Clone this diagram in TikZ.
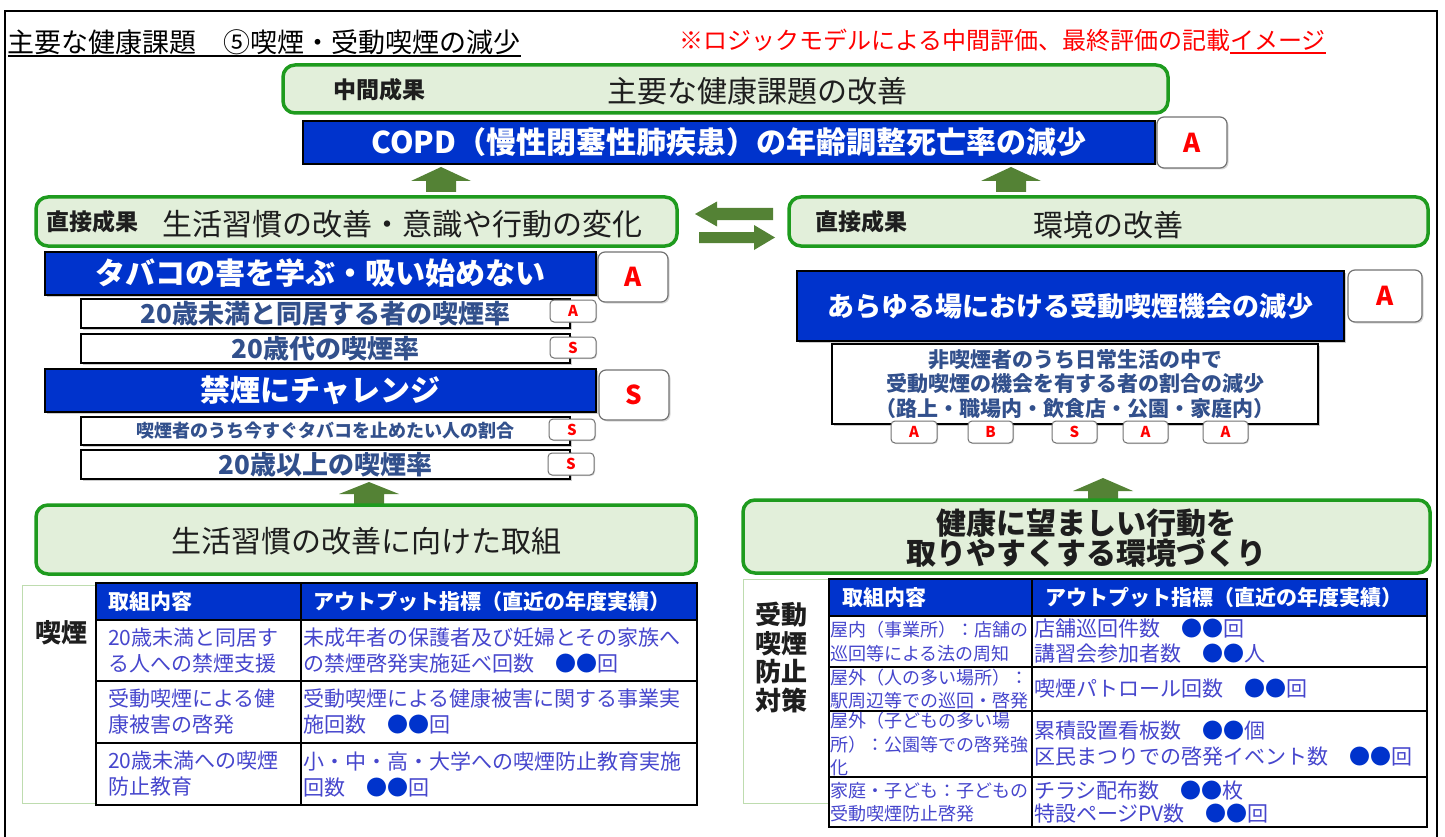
\documentclass[tikz,border=0pt]{standalone}
\usepackage{fontspec}
\setmainfont{Noto Sans CJK JP}
\usetikzlibrary{shadows}
\definecolor{bluef}{RGB}{0,51,204}
\definecolor{greenf}{RGB}{226,239,218}
\definecolor{greenb}{RGB}{30,155,30}
\definecolor{arrowg}{RGB}{84,130,53}
\definecolor{tabtxt}{RGB}{70,70,205}
\definecolor{indtxt}{RGB}{50,80,140}
\definecolor{redt}{RGB}{255,0,0}
\definecolor{frameg}{RGB}{190,220,175}
\definecolor{darktxt}{RGB}{30,30,30}
\newcommand\fsz[2]{\fontsize{#1pt}{#2pt}\selectfont}
\newcommand\bul{{\color{bluef}●●}}
\newcommand\uparr[4]{\fill[arrowg] (#1,#2) -- (#1+30,#3) -- (#1+15,#3) -- (#1+15,#4) -- (#1-15,#4) -- (#1-15,#3) -- (#1-30,#3) -- cycle;}
\begin{document}
\begin{tikzpicture}[x=1pt,y=-1pt,
 every node/.style={inner sep=0pt,outer sep=0pt},
 bb/.style n args={4}{anchor=north west,at={(#1,#2)},minimum width={(#3-#1)*1pt},minimum height={(#4-#2)*1pt}},
 greenbox/.style={draw=greenb,fill=greenf,line width=3.5pt,rounded corners=12pt},
 bluebox/.style={draw=black,fill=bluef,line width=1.5pt,text=white,font={\fsz{30}{30}\bfseries},drop shadow={shadow xshift=1.5pt,shadow yshift=-1.5pt,opacity=0.4}},
 indbox/.style={draw=black,fill=white,line width=1.3pt,text=indtxt,font={\fsz{26}{26}\bfseries},drop shadow={shadow xshift=1.5pt,shadow yshift=-1.5pt,opacity=0.4}},
 bigbadge/.style={draw=black!55,fill=white,line width=1.2pt,rounded corners=7pt,text=redt,font={\fsz{26}{26}\bfseries},drop shadow={shadow xshift=1.5pt,shadow yshift=-1.5pt,opacity=0.3}},
 badge/.style={draw=black!55,fill=white,line width=1pt,rounded corners=4pt,text=redt,font={\fsz{15}{15}\bfseries},drop shadow={shadow xshift=1pt,shadow yshift=-1pt,opacity=0.3}},
 boxlabel/.style={anchor=west,text=darktxt,font={\fsz{23}{23}\bfseries}},
 boxtext/.style={text=darktxt,font={\fsz{30}{30}}},
 hcell/.style={draw=black,line width=1.5pt,fill=bluef,text=white,font={\fsz{21}{21}\bfseries},align=left},
 cell/.style={draw=black,line width=1.5pt,fill=white,text=tabtxt,align=left},
 sidelabel/.style={text=darktxt,font={\fsz{26}{28.5}\bfseries},align=center}
]
\useasboundingbox (0,0) rectangle (1445,837);
\fill[white] (0,0) rectangle (1445,837);
% outer frame
\draw[line width=1.8pt] (5,837) -- (5,11) -- (1437,11) -- (1437,837);

% title and note
\node[anchor=west,text=black,font={\fsz{27}{27}}] (title) at (8,42) {主要な健康課題　⑤喫煙・受動喫煙の減少};
\coordinate (ul1) at (0,56);
\draw[line width=1.6pt] (title.west |- ul1) -- (title.east |- ul1);
\node[anchor=west,text=redt,font={\fsz{24}{24}}] (note) at (679,40) {※ロジックモデルによる中間評価、最終評価の記載イメージ};
\coordinate (ul2) at (0,53);
\coordinate (ie) at ([xshift=-96pt]note.east);
\draw[redt,line width=1.2pt] (ie |- ul2) -- (note.east |- ul2);

% intermediate outcome
\node[greenbox,bb={283}{65}{1168}{113}] (mid) {};
\node[boxlabel] (midl) at (333,90) {中間成果};
\node[boxtext] (midt) at (757,91) {主要な健康課題の改善};
\node[bluebox,bb={303}{121}{1155}{164}] (copd) {COPD（慢性閉塞性肺疾患）の年齢調整死亡率の減少};
\node[bigbadge,bb={1157}{117}{1227}{168}] (copdA) {A};

\uparr{441}{167}{181}{192}
\uparr{1011}{167}{181}{192}

% direct outcomes
\node[greenbox,bb={36}{197}{677}{246}] (dl) {};
\node[boxlabel] (dll) at (46,222) {直接成果};
\node[boxtext] (dlt) at (402,224) {生活習慣の改善・意識や行動の変化};
\node[greenbox,bb={789}{197}{1428}{246}] (dr) {};
\node[boxlabel] (drl) at (815,222) {直接成果};
\node[boxtext] (drt) at (1108,225) {環境の改善};

\fill[arrowg] (695,214) -- (717,201.5) -- (717,208) -- (773,208) -- (773,220) -- (717,220) -- (717,226.5) -- cycle;
\fill[arrowg] (775,237.5) -- (754,225) -- (754,232) -- (699,232) -- (699,243) -- (754,243) -- (754,250) -- cycle;

% left column
\node[bluebox,bb={45}{252}{596}{295}] (b1) {タバコの害を学ぶ・吸い始めない};
\node[bigbadge,bb={598}{252}{668}{302}] (b1A) {A};
\node[indbox,bb={81}{299}{570}{328}] (i1) {20歳未満と同居する者の喫煙率};
\node[badge,bb={550}{300}{596}{322}] (i1A) {A};
\node[indbox,bb={81}{334}{570}{363}] (i2) {20歳代の喫煙率};
\node[badge,bb={550}{337}{596}{358}] (i2S) {S};
\node[bluebox,bb={45}{369}{596}{412}] (b2) {禁煙にチャレンジ};
\node[bigbadge,bb={599}{370}{669}{420}] (b2S) {S};
\node[indbox,bb={81}{417}{570}{445},font={\fsz{18}{18}\bfseries}] (i3) {喫煙者のうち今すぐタバコを止めたい人の割合};
\node[badge,bb={549}{419}{595}{440}] (i3S) {S};
\node[indbox,bb={81}{450}{570}{479}] (i4) {20歳以上の喫煙率};
\node[badge,bb={548}{453}{594}{475}] (i4S) {S};

\uparr{369}{482}{494}{505}

% right column
\node[bluebox,bb={797}{271}{1344}{341},font={\fsz{27}{27}\bfseries}] (b3) {あらゆる場における受動喫煙機会の減少};
\node[bigbadge,bb={1348}{270}{1422}{322}] (b3A) {A};
\node[indbox,bb={832}{344}{1318}{424},font={\fsz{21}{24.5}\bfseries},align=center] (i5) {非喫煙者のうち日常生活の中で\\受動喫煙の機会を有する者の割合の減少\\（路上・職場内・飲食店・公園・家庭内）};
\node[badge,bb={891}{421}{937}{443}] (p1) {A};
\node[badge,bb={968}{421}{1013}{443}] (p2) {B};
\node[badge,bb={1052}{421}{1097}{443}] (p3) {S};
\node[badge,bb={1123}{421}{1168}{443}] (p4) {A};
\node[badge,bb={1203}{421}{1248}{443}] (p5) {A};

\uparr{1103}{478}{491}{501}

% activity boxes
\node[greenbox,bb={36}{505}{696}{574}] (al) {};
\node[boxtext] (alt) at (366,541) {生活習慣の改善に向けた取組};
\node[greenbox,bb={743}{500}{1430}{573}] (ar) {};
\node[boxtext,font={\fsz{30}{29}\bfseries},align=center] (art) at (1086,538) {健康に望ましい行動を\\取りやすくする環境づくり};

% left table
\draw[frameg,line width=1pt] (22,585) rectangle (96,803);
\node[sidelabel] (lt) at (61,633) {喫煙};
\node[hcell,bb={96}{583}{301}{620},inner xsep=12pt,text width=181pt] (lh1) {取組内容};
\node[hcell,bb={301}{583}{697}{620},inner xsep=12pt,text width=372pt] (lh2) {アウトプット指標（直近の年度実績）};
\node[cell,bb={96}{620}{301}{681},inner xsep=12pt,text width=181pt,font={\fsz{21}{26}}] (l11) {20歳未満と同居す\\る人への禁煙支援};
\node[cell,bb={301}{620}{697}{681},inner xsep=2pt,text width=392pt,font={\fsz{21}{26}}] (l12) {未成年者の保護者及び妊婦とその家族へ\\の禁煙啓発実施延べ回数　\bul 回};
\node[cell,bb={96}{681}{301}{743},inner xsep=12pt,text width=181pt,font={\fsz{21}{26}}] (l21) {受動喫煙による健\\康被害の啓発};
\node[cell,bb={301}{681}{697}{743},inner xsep=2pt,text width=392pt,font={\fsz{21}{26}}] (l22) {受動喫煙による健康被害に関する事業実\\施回数　\bul 回};
\node[cell,bb={96}{743}{301}{805},inner xsep=12pt,text width=181pt,font={\fsz{21}{26}}] (l31) {20歳未満への喫煙\\防止教育};
\node[cell,bb={301}{743}{697}{805},inner xsep=2pt,text width=392pt,font={\fsz{21}{26}}] (l32) {小・中・高・大学への喫煙防止教育実施\\回数　\bul 回};

% right table
\draw[frameg,line width=1pt] (743,579) rectangle (958,803);
\node[sidelabel] (rt) at (781,657.5) {受動\\喫煙\\防止\\対策};
\node[hcell,bb={829}{579}{1032}{616},inner xsep=13pt,text width=177pt] (rh1) {取組内容};
\node[hcell,bb={1032}{579}{1427}{616},inner xsep=13pt,text width=369pt] (rh2) {アウトプット指標（直近の年度実績）};
\node[cell,bb={829}{616}{1032}{667},inner xsep=1pt,text width=201pt,font={\fsz{18}{23.5}}] (r11) {屋内（事業所）：店舗の\\巡回等による法の周知};
\node[cell,bb={1032}{616}{1427}{667},inner xsep=2pt,text width=391pt,font={\fsz{21}{25}}] (r12) {店舗巡回件数　\bul 回\\講習会参加者数　\bul 人};
\node[cell,bb={829}{667}{1032}{711},inner xsep=1pt,text width=201pt,font={\fsz{18}{23.5}}] (r21) {屋外（人の多い場所）：\\駅周辺等での巡回・啓発};
\node[cell,bb={1032}{667}{1427}{711},inner xsep=2pt,text width=391pt,font={\fsz{21}{25}}] (r22) {喫煙パトロール回数　\bul 回};
\node[cell,bb={829}{711}{1032}{777},inner xsep=1pt,text width=201pt,font={\fsz{18}{23.5}}] (r31) {屋外（子どもの多い場\\所）：公園等での啓発強\\化};
\node[cell,bb={1032}{711}{1427}{777},inner xsep=2pt,text width=391pt,font={\fsz{21}{26}}] (r32) {累積設置看板数　\bul 個\\区民まつりでの啓発イベント数　\bul 回};
\node[cell,bb={829}{777}{1032}{827},inner xsep=1pt,text width=201pt,font={\fsz{18}{23.5}}] (r41) {家庭・子ども：子どもの\\受動喫煙防止啓発};
\node[cell,bb={1032}{777}{1427}{827},inner xsep=2pt,text width=391pt,font={\fsz{21}{23.5}}] (r42) {チラシ配布数　\bul 枚\\特設ページPV数　\bul 回};
\end{tikzpicture}
\end{document}
